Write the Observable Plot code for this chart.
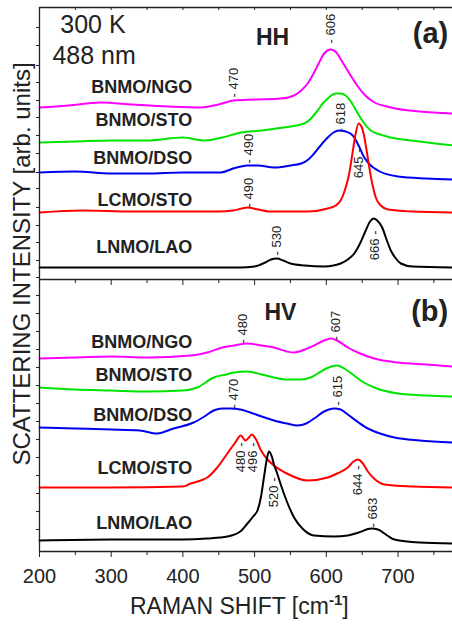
<!DOCTYPE html>
<html><head><meta charset="utf-8">
<script src="https://cdn.jsdelivr.net/npm/d3@7"></script>
<script src="https://cdn.jsdelivr.net/npm/@observablehq/plot@0.6"></script>
<style>
body{margin:0;background:#fff}
svg{display:block}
</style>
</head><body><div id="chart"></div>
<script>
// ---------- DATA ----------
const samples = ["BNMO/NGO", "BNMO/STO", "BNMO/DSO", "LCMO/STO", "LNMO/LAO"];
const sampleColors = ["#ff00ff", "#00e400", "#0000f0", "#ff0000", "#000000"];

// HH spectra, panel (a): [Raman shift (cm^-1), offset intensity (arb. units)]
const hhNGO = [[200,172],[240,174],[285,177],[330,175],[380,173],[425,172],[450,175],[470,179],[500,180],[537,181],[555,184],[565,189],[575,197],[583,207],[590,217],[597,226],[606,230],[614,227],[622,218],[634,204],[645,192],[653,185],[665,178],[690,172],[730,168],[777,166]];
const hhSTO = [[200,137],[250,138],[300,139],[350,139],[400,142],[430,139],[455,142],[481,147],[510,149],[540,152],[569,156],[580,162],[588,169],[595,176],[602,181],[613,186],[620,186],[627,184],[636,176],[644,166],[653,156],[662,149],[675,145],[690,142],[730,138],[777,134]];
const hhDSO = [[200,107],[250,108],[300,106],[350,106],[400,107],[453,107],[470,111],[481,113],[490,114],[505,114],[527,112],[550,114],[565,116],[575,120],[583,126],[592,134],[602,142],[610,147],[618,149],[627,148],[637,144],[645,134],[653,122],[662,114],[672,109],[700,103],[740,101],[777,100]];
const hhLCMO = [[200,67],[260,69],[330,68],[400,68],[450,68],[470,69],[490,72],[505,70],[520,68],[574,68],[602,71],[613,74],[620,79],[627,92],[632,106],[636,124],[640,142],[645,156],[649,153],[652,146],[656,130],[660,112],[664,96],[669,82],[676,74],[686,70],[720,68],[777,67]];
const hhLNMO = [[200,12],[300,12],[400,12],[480,12],[500,13],[515,17],[523,20],[531,21],[540,19],[550,16],[570,14],[597,13],[610,14],[620,16],[630,20],[639,26],[647,36],[655,49],[661,58],[666,61],[671,59],[678,52],[684,40],[690,29],[697,21],[704,16],[720,13],[777,12]];

// HV spectra, panel (b)
const hvNGO = [[200,193],[250,194],[300,195],[350,194],[411,196],[434,199],[455,204],[471,206],[490,208],[510,206],[527,204],[545,200],[555,199],[570,202],[583,206],[597,211],[607,213],[615,211],[630,204],[644,199],[667,193],[700,189],[740,187],[777,185]];
const hvSTO = [[200,164],[250,162],[300,161],[350,160],[400,161],[420,164],[443,174],[460,177],[471,179],[490,180],[510,177],[527,174],[545,172],[565,172],[578,174],[588,178],[600,183],[615,186],[625,183],[635,178],[650,170],[667,164],[700,158],[740,156],[777,155]];
const hvDSO = [[200,124],[250,123],[300,122],[340,121],[364,118],[387,123],[415,129],[430,135],[443,141],[455,143],[467,143],[480,142],[490,140],[510,135],[527,131],[545,128],[560,126],[572,128],[583,133],[597,140],[611,143],[620,142],[630,137],[645,129],[658,123],[675,118],[695,114],[730,111],[777,109]];
const hvLCMO = [[200,64],[300,64],[400,65],[411,68],[425,71],[434,74],[448,84],[462,98],[472,108],[481,116],[487,111],[492,114],[496,117],[502,112],[509,101],[518,92],[527,86],[545,78],[574,71],[602,74],[615,78],[630,84],[638,90],[644,92],[650,89],[658,80],[668,72],[681,67],[720,65],[777,64]];
const hvLNMO = [[200,11],[300,12],[400,12],[434,13],[462,15],[480,20],[490,28],[498,35],[504,41],[509,55],[513,74],[517,92],[520,100],[524,95],[527,87],[532,77],[536,68],[545,50],[555,34],[568,22],[583,16],[611,15],[630,16],[645,19],[663,23],[672,22],[685,16],[695,12],[730,9],[777,8]];

// Peak positions (cm^-1) as annotated
const hhPeakValues = [606, 470, 618, 490, 490, 645, 530, 666];
const hvPeakValues = [480, 607, 470, 615, 480, 496, 520, 644, 663];

// Axis ticks
const xMajorTicks = [200, 300, 400, 500, 600, 700];
const xMinorTicks = [250, 350, 450, 550, 650, 750];
const yMinorTicks = [22, 40, 58, 76, 94, 112, 130, 148, 166, 184, 202, 220, 238, 256, 274, 291, 309, 326, 344, 363, 379, 398, 416, 434, 451, 469, 486, 506, 524];

// ---------- LAYOUT (annotation placement) ----------
const panelOffset = {HH: 272, HV: 0};
const sampleLabelY = {HH: [192, 159, 121, 79, 32], HV: [209, 176, 136, 83, 28]};
const hhPeakLayout = [
  {x: 606, y: 236, a: "start"}, {x: 471, y: 182, a: "start"}, {x: 620, y: 147, a: "start"},
  {x: 492, y: 116, a: "start"}, {x: 492, y: 72, a: "start"}, {x: 646, y: 131, a: "end"},
  {x: 531, y: 24, a: "start"}, {x: 667, y: 49, a: "end"}
];
const hvPeakLayout = [
  {x: 483, y: 208, a: "start"}, {x: 613, y: 211, a: "start"}, {x: 471, y: 143, a: "start"},
  {x: 616, y: 146, a: "start"}, {x: 481, y: 109, a: "end"}, {x: 497, y: 109, a: "end"},
  {x: 527, y: 74, a: "end"}, {x: 644, y: 86, a: "end"}, {x: 665, y: 24, a: "start"}
];

// ---------- BUILD ----------
const spectra = {HH: [hhNGO, hhSTO, hhDSO, hhLCMO, hhLNMO], HV: [hvNGO, hvSTO, hvDSO, hvLCMO, hvLNMO]};
const rows = [];
for (const pol of ["HH", "HV"]) {
  spectra[pol].forEach((s, i) => {
    for (const [x, y] of s) rows.push({pol, sample: samples[i], key: pol + i, color: sampleColors[i], x, y: y + panelOffset[pol]});
  });
}
const nameRows = [];
for (const pol of ["HH", "HV"]) samples.forEach((s, i) => nameRows.push({text: s, y: sampleLabelY[pol][i] + panelOffset[pol]}));
const peakRows = [
  ...hhPeakValues.map((p, i) => ({p, ...hhPeakLayout[i], y: hhPeakLayout[i].y + panelOffset.HH})),
  ...hvPeakValues.map((p, i) => ({p, ...hvPeakLayout[i], y: hvPeakLayout[i].y + panelOffset.HV}))
].map(d => ({...d, text: d.a === "start" ? "- " + d.p : d.p + " -"}));

const ink = "#222";
const font = "'Liberation Sans', Arial, Helvetica, sans-serif";

const chart = Plot.plot({
  width: 452, height: 630,
  marginLeft: 39, marginRight: 0, marginTop: 7, marginBottom: 79,
  style: {fontFamily: font, color: ink, background: "#fff", overflow: "visible"},
  x: {domain: [200, 776]},
  y: {domain: [0, 544]},
  marks: [
    Plot.line(rows, {x: "x", y: "y", z: "key", stroke: "color", strokeWidth: 2, curve: "monotone-x"}),
    Plot.ruleY([0, 272, 544], {stroke: ink, strokeWidth: 1.3}),
    Plot.ruleX([200], {stroke: ink, strokeWidth: 1.3}),
    Plot.axisX({anchor: "bottom", ticks: xMajorTicks, tickSize: 6, tickPadding: 11, fontSize: 20, label: null, stroke: ink}),
    Plot.axisX({anchor: "bottom", ticks: xMinorTicks, tickSize: 4, tickFormat: () => "", label: null, stroke: ink}),
    Plot.ruleX(xMajorTicks, {y1: 272, y2: 266, stroke: ink}),
    Plot.ruleX(xMinorTicks, {y1: 272, y2: 268, stroke: ink}),
    Plot.ruleX([...xMajorTicks, ...xMinorTicks], {y1: 544, y2: 541, stroke: ink}),
    Plot.axisY({anchor: "left", ticks: yMinorTicks, tickSize: 3, tickFormat: () => "", label: null, stroke: ink}),
    Plot.text(nameRows, {x: 413, y: "y", text: "text", textAnchor: "end", lineAnchor: "middle", fontSize: 18, fontWeight: "bold", fill: ink}),
    Plot.text(peakRows.filter(d => d.a === "start"), {x: "x", y: "y", text: "text", rotate: -90, textAnchor: "start", lineAnchor: "middle", fontSize: 13, fill: ink}),
    Plot.text(peakRows.filter(d => d.a === "end"), {x: "x", y: "y", text: "text", rotate: -90, textAnchor: "end", lineAnchor: "middle", fontSize: 13, fill: ink}),
    Plot.text(["300 K"], {x: 229, y: 527, text: d => d, textAnchor: "start", lineAnchor: "middle", fontSize: 25, fill: ink}),
    Plot.text(["488 nm"], {x: 218, y: 496, text: d => d, textAnchor: "start", lineAnchor: "middle", fontSize: 25, fill: ink}),
    Plot.text(["HH"], {x: 525, y: 514, text: d => d, lineAnchor: "middle", fontSize: 23, fontWeight: "bold", fill: ink}),
    Plot.text(["HV"], {x: 536, y: 239, text: d => d, lineAnchor: "middle", fontSize: 23, fontWeight: "bold", fill: ink}),
    Plot.text(["(a)"], {x: 770, y: 518, text: d => d, textAnchor: "end", lineAnchor: "middle", fontSize: 29, fontWeight: "bold", fill: ink}),
    Plot.text(["(b)"], {x: 770, y: 240, text: d => d, textAnchor: "end", lineAnchor: "middle", fontSize: 29, fontWeight: "bold", fill: ink})
  ]
});

document.getElementById("chart").appendChild(chart);
const svg = d3.select(chart);

// axis titles
svg.append("text")
  .attr("transform", "translate(30,264) rotate(-90)")
  .attr("text-anchor", "middle")
  .attr("font-family", font).attr("font-size", 24).attr("fill", ink)
  .text("SCATTERING INTENSITY [arb. units]");
const xl = svg.append("text")
  .attr("x", 130).attr("y", 614).attr("text-anchor", "start")
  .attr("font-family", font).attr("font-size", 23).attr("fill", ink);
xl.append("tspan").text("RAMAN SHIFT [cm");
xl.append("tspan").attr("dy", -9).attr("font-size", 15).attr("font-weight", "bold").text("-1");
xl.append("tspan").attr("dy", 9).text("]");
</script>
</body></html>
